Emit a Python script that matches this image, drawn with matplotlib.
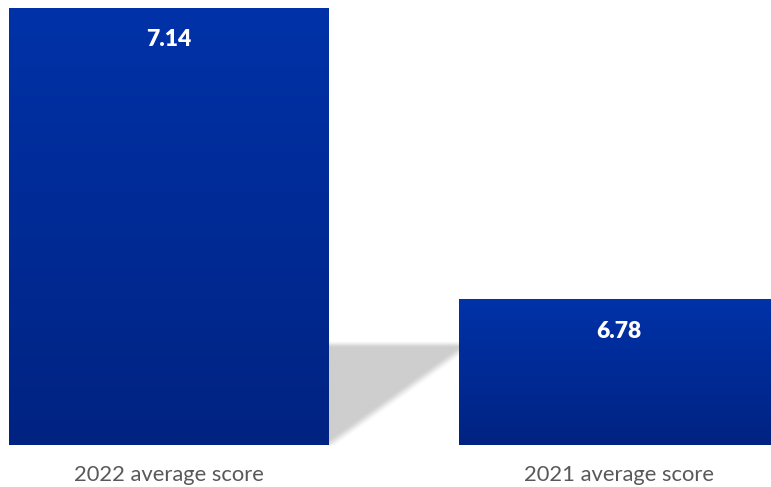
import numpy as np
import matplotlib
matplotlib.use("Agg")
import matplotlib.pyplot as plt
from matplotlib.colors import LinearSegmentedColormap

categories = ["2022 average score", "2021 average score"]
values = [7.14, 6.78]
value_labels = ["7.14", "6.78"]

W, H = 771, 487
fig = plt.figure(figsize=(W / 100, H / 100), dpi=100)
ax = fig.add_axes([0, 42 / H, 1, 445 / H])
ymin = 6.6
ymax = 7.14 + 8 * (7.14 - ymin) / 437
ax.set_ylim(ymin, ymax)
xl = -169 / 450
xr = 1 + (771 - 619) / 450
ax.set_xlim(xl, xr)
ax.axis("off")

width = 320 / 450
x = np.arange(len(categories))

# shadow connector between bars
x1r = x[0] + width / 2
x2l = x[1] - width / 2
ppx = (xr - xl) / W          # data units per pixel (x)
ppy = (ymax - ymin) / 445    # data units per pixel (y)
y_top = ymin + 103 * ppy
gx = np.linspace(x1r, x2l, 300)
gy = np.linspace(ymin, y_top + 14 * ppy, 300)
GX, GY = np.meshgrid(gx, gy)
px = (GX - x1r) / ppx
py = (GY - ymin) / ppy
L = (x2l - x1r) / ppx
nx, ny = -93, L
nrm = np.hypot(nx, ny)
d_diag = (px * nx + py * ny) / nrm
d_top = 101 - py
d = np.minimum(d_top / 7.0, d_diag / 10.0)
alpha = np.clip(0.5 + d, 0, 1)
alpha = alpha * alpha * (3 - 2 * alpha)
img = np.zeros(GX.shape + (4,))
img[..., :3] = 0.8
img[..., 3] = alpha * 0.95
ax.imshow(img, extent=[x1r, x2l, gy[0], gy[-1]], origin="lower",
          aspect="auto", zorder=1, interpolation="bilinear")

cmap = LinearSegmentedColormap.from_list("g", ["#002382", "#0032A8"])
grad = np.linspace(0, 1, 256).reshape(-1, 1)
bars = ax.bar(x, [v - ymin for v in values], bottom=ymin, width=width,
              color="none", edgecolor="none", zorder=2)
for b, v, lab in zip(bars, values, value_labels):
    x0 = b.get_x()
    im = ax.imshow(grad, extent=[x0, x0 + b.get_width(), ymin, v],
                   origin="lower", aspect="auto", cmap=cmap, zorder=2)
    im.set_clip_path(b)
    ax.text(b.get_x() + b.get_width() / 2, v - 32 * ppy, lab, ha="center",
            va="center", color="white", fontsize=16.5, fontweight="heavy",
            family="Lato", zorder=3)

for xi, c in zip(x, categories):
    fig.text((xi - xl) / (xr - xl), 1 - 475 / H, c, ha="center", va="center",
             color="#595959", fontsize=15.8, family="Lato")

ax.set_xlim(xl, xr)
ax.set_ylim(ymin, ymax)
fig.savefig("out.png", dpi=100, facecolor="white")
